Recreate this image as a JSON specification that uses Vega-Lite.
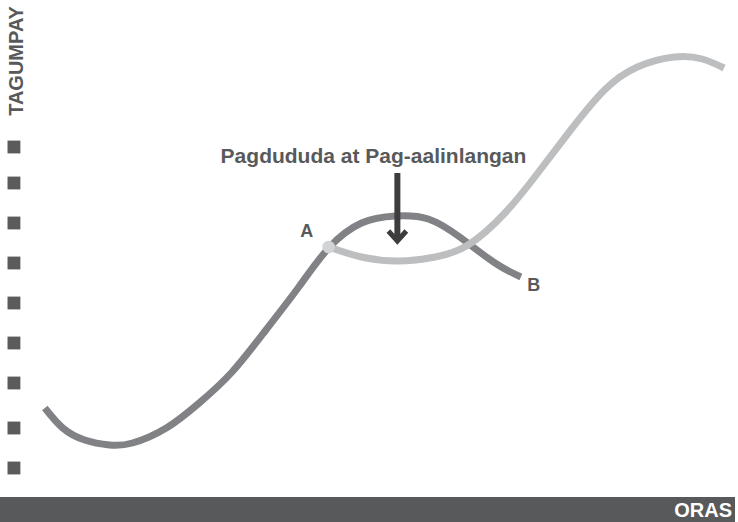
{
  "$schema": "https://vega.github.io/schema/vega-lite/v6.json",
  "width": 738,
  "height": 522,
  "padding": 0,
  "autosize": {"type": "fit", "contains": "padding"},
  "background": "white",
  "config": {"view": {"stroke": null}, "text": {"font": "Liberation Sans", "fontWeight": "bold"}},
  "datasets": {
    "bar": [{"x": 0, "x2": 738, "y": 0, "y2": 25, "label": "ORAS"}],
    "ticks": [{"t": 14, "v": 375}, {"t": 14, "v": 339}, {"t": 14, "v": 299}, {"t": 14, "v": 259}, {"t": 14, "v": 219}, {"t": 14, "v": 179}, {"t": 14, "v": 139}, {"t": 14, "v": 94}, {"t": 14, "v": 54}],
    "dark": [
      {"t": 45, "v": 114}, {"t": 63, "v": 94}, {"t": 85, "v": 82}, {"t": 110, "v": 77}, {"t": 133, "v": 79}, {"t": 167, "v": 94}, {"t": 200, "v": 119}, {"t": 233, "v": 150}, {"t": 267, "v": 192}, {"t": 300, "v": 235}, {"t": 330, "v": 274}, {"t": 363, "v": 299}, {"t": 397, "v": 306}, {"t": 430, "v": 303}, {"t": 463, "v": 284}, {"t": 497, "v": 259}, {"t": 523, "v": 245}
    ],
    "light": [
      {"t": 330, "v": 275}, {"t": 363, "v": 265}, {"t": 400, "v": 261}, {"t": 437, "v": 265}, {"t": 470, "v": 277}, {"t": 507, "v": 309}, {"t": 540, "v": 349}, {"t": 573, "v": 392}, {"t": 607, "v": 432}, {"t": 640, "v": 455}, {"t": 677, "v": 465}, {"t": 705, "v": 463}, {"t": 727, "v": 454}
    ],
    "arrowShaft": [{"t": 399, "v": 349, "v2": 282}],
    "arrowHead": [{"t": 390, "v": 291, "o": 1}, {"t": 399, "v": 281, "o": 2}, {"t": 408, "v": 291, "o": 3}],
    "pointA": [{"t": 330, "v": 275}],
    "labels": [
      {"t": 308, "v": 290, "label": "A"},
      {"t": 536, "v": 236, "label": "B"}
    ],
    "title": [{"t": 375, "v": 365, "label": "Pagdududa at Pag-aalinlangan"}],
    "ylabel": [{"t": 17, "v": 461, "label": "TAGUMPAY"}]
  },
  "layer": [
    {
      "data": {"name": "bar"},
      "mark": {"type": "rect", "color": "#58595b"},
      "encoding": {
        "x": {"field": "x", "type": "quantitative", "scale": {"domain": [0, 738]}, "axis": null},
        "x2": {"field": "x2"},
        "y": {"field": "y", "type": "quantitative", "scale": {"domain": [0, 522]}, "axis": null},
        "y2": {"field": "y2"}
      }
    },
    {
      "data": {"name": "bar"},
      "mark": {"type": "text", "color": "white", "fontSize": 20, "align": "right", "baseline": "middle", "dx": -3, "dy": 1},
      "encoding": {
        "x": {"field": "x2", "type": "quantitative", "scale": {"domain": [0, 738]}, "axis": null},
        "y": {"datum": 12.5, "type": "quantitative", "scale": {"domain": [0, 522]}, "axis": null},
        "text": {"field": "label"}
      }
    },
    {
      "data": {"name": "ticks"},
      "mark": {"type": "point", "shape": "square", "filled": true, "size": 165, "color": "#5a5b5d", "opacity": 1},
      "encoding": {
        "x": {"field": "t", "type": "quantitative", "scale": {"domain": [0, 738]}, "axis": null},
        "y": {"field": "v", "type": "quantitative", "scale": {"domain": [0, 522]}, "axis": null}
      }
    },
    {
      "data": {"name": "dark"},
      "mark": {"type": "line", "color": "#808285", "strokeWidth": 7, "interpolate": "natural", "strokeCap": "butt"},
      "encoding": {
        "x": {"field": "t", "type": "quantitative", "scale": {"domain": [0, 738]}, "axis": null},
        "y": {"field": "v", "type": "quantitative", "scale": {"domain": [0, 522]}, "axis": null}
      }
    },
    {
      "data": {"name": "light"},
      "mark": {"type": "line", "color": "#bcbec0", "strokeWidth": 7, "interpolate": "natural", "strokeCap": "butt"},
      "encoding": {
        "x": {"field": "t", "type": "quantitative", "scale": {"domain": [0, 738]}, "axis": null},
        "y": {"field": "v", "type": "quantitative", "scale": {"domain": [0, 522]}, "axis": null}
      }
    },
    {
      "data": {"name": "pointA"},
      "mark": {"type": "point", "shape": "circle", "filled": true, "size": 160, "color": "#d1d3d4", "opacity": 1},
      "encoding": {
        "x": {"field": "t", "type": "quantitative", "scale": {"domain": [0, 738]}, "axis": null},
        "y": {"field": "v", "type": "quantitative", "scale": {"domain": [0, 522]}, "axis": null}
      }
    },
    {
      "data": {"name": "arrowShaft"},
      "mark": {"type": "rule", "color": "#3d3d3d", "strokeWidth": 6},
      "encoding": {
        "x": {"field": "t", "type": "quantitative", "scale": {"domain": [0, 738]}, "axis": null},
        "y": {"field": "v", "type": "quantitative", "scale": {"domain": [0, 522]}, "axis": null},
        "y2": {"field": "v2"}
      }
    },
    {
      "data": {"name": "arrowHead"},
      "mark": {"type": "line", "color": "#3d3d3d", "strokeWidth": 5, "strokeJoin": "miter", "strokeCap": "butt"},
      "encoding": {
        "x": {"field": "t", "type": "quantitative", "scale": {"domain": [0, 738]}, "axis": null},
        "y": {"field": "v", "type": "quantitative", "scale": {"domain": [0, 522]}, "axis": null},
        "order": {"field": "o"}
      }
    },
    {
      "data": {"name": "labels"},
      "mark": {"type": "text", "color": "#58595b", "fontSize": 18, "align": "center", "baseline": "middle"},
      "encoding": {
        "x": {"field": "t", "type": "quantitative", "scale": {"domain": [0, 738]}, "axis": null},
        "y": {"field": "v", "type": "quantitative", "scale": {"domain": [0, 522]}, "axis": null},
        "text": {"field": "label"}
      }
    },
    {
      "data": {"name": "title"},
      "mark": {"type": "text", "color": "#58595b", "fontSize": 21, "align": "center", "baseline": "middle"},
      "encoding": {
        "x": {"field": "t", "type": "quantitative", "scale": {"domain": [0, 738]}, "axis": null},
        "y": {"field": "v", "type": "quantitative", "scale": {"domain": [0, 522]}, "axis": null},
        "text": {"field": "label"}
      }
    },
    {
      "data": {"name": "ylabel"},
      "mark": {"type": "text", "color": "#58595b", "fontSize": 20, "align": "center", "baseline": "middle", "angle": 270},
      "encoding": {
        "x": {"field": "t", "type": "quantitative", "scale": {"domain": [0, 738]}, "axis": null},
        "y": {"field": "v", "type": "quantitative", "scale": {"domain": [0, 522]}, "axis": null},
        "text": {"field": "label"}
      }
    }
  ]
}
